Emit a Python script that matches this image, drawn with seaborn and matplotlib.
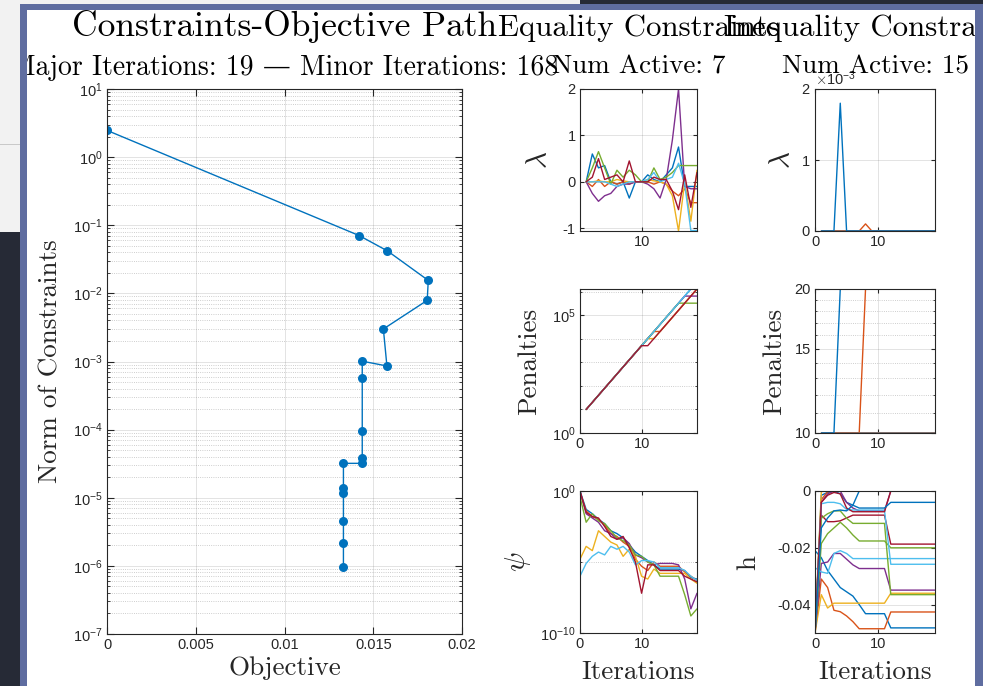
import numpy as np
import pandas as pd
import matplotlib
matplotlib.use("Agg")
import matplotlib.pyplot as plt
import matplotlib.ticker as mticker
from matplotlib.patches import Rectangle
import seaborn as sns

# ---------------- data ----------------
# constraints-objective path (major iterations)
objective = [0.0, 0.01421, 0.0158, 0.0181, 0.01804, 0.01557, 0.01577, 0.01438, 0.01438,
             0.01438, 0.01438, 0.01438, 0.01332, 0.01332, 0.01332, 0.01332, 0.01332, 0.01332]
constraint_norm = [2.47, 0.0705, 0.042, 0.0155, 0.0079, 0.0030, 8.6e-4, 1.01e-3, 5.7e-4,
                   9.7e-5, 3.85e-5, 3.2e-5, 3.2e-5, 1.37e-5, 1.18e-5, 4.6e-6, 2.2e-6, 9.5e-7]

iters_1 = [1, 2, 3, 4, 5, 6, 7, 8, 9, 10, 11, 12, 13, 14, 15, 16, 17, 18, 19]
iters_0 = [0, 1, 2, 3, 4, 5, 6, 7, 8, 9, 10, 11, 12, 13, 14, 15, 16, 17, 18, 19]

# equality multipliers (7 constraints)
lam_eq_1 = [0, 0.6, 0.3, 0.35, 0.0, -0.05, 0.0, -0.35, 0.0, 0.0, 0.15, 0.05, 0.0, 0.15, 0.3, 0.75, -0.1, -0.1, -0.1]
lam_eq_2 = [0, -0.1, 0.05, -0.1, 0.0, -0.05, 0.0, -0.05, 0.0, 0.0, 0.0, -0.05, 0.0, -0.05, -0.2, -0.3, -0.15, -0.45, -0.45]
lam_eq_3 = [0, 0.0, 0.02, 0.0, 0.0, 0.05, 0.02, 0.0, 0.0, 0.0, 0.05, 0.02, 0.0, -0.05, -0.3, -1.06, 0.0, -0.85, 0.25]
lam_eq_4 = [0, -0.25, -0.42, -0.3, -0.25, -0.1, -0.05, -0.05, 0.0, 0.0, -0.05, -0.15, -0.35, 0.05, 0.9, 2.0, -0.1, -0.15, -0.15]
lam_eq_5 = [0, 0.3, 0.65, 0.3, -0.05, 0.25, 0.1, 0.25, 0.15, 0.0, 0.0, 0.3, 0.05, 0.1, 0.2, 0.35, 0.35, 0.35, 0.35]
lam_eq_6 = [0, 0.0, 0.0, 0.0, -0.05, -0.1, -0.05, 0.0, 0.0, 0.0, 0.05, 0.2, 0.0, 0.05, 0.1, 0.4, -0.05, -1.05, -1.05]
lam_eq_7 = [0, 0.1, 0.5, 0.05, 0.1, 0.15, 0.0, 0.45, 0.0, 0.0, 0.0, 0.1, 0.05, 0.05, -0.2, -0.6, 0.15, -0.55, 0.2]

# equality penalties
pen_eq_1 = [10, 20, 40, 80, 160, 320, 640, 1280, 2560, 5120, 10240, 20480, 40960, 81920, 163840, 327680, 655360, 1310720, 1310720]
pen_eq_2 = [10, 20, 40, 80, 160, 320, 640, 1280, 2560, 5120, 10240, 20480, 20480, 40960, 81920, 163840, 327680, 655360, 1310720]
pen_eq_3 = [10, 20, 40, 80, 160, 320, 640, 1280, 2560, 5120, 10240, 10240, 20480, 40960, 81920, 163840, 327680, 655360, 1310720]
pen_eq_4 = [10, 20, 40, 80, 160, 320, 640, 1280, 2560, 5120, 10240, 20480, 40960, 81920, 163840, 327680, 655360, 655360, 655360]
pen_eq_5 = [10, 20, 40, 80, 160, 320, 640, 1280, 2560, 5120, 10240, 20480, 40960, 81920, 163840, 327680, 327680, 327680, 327680]
pen_eq_6 = [10, 20, 40, 80, 160, 320, 640, 1280, 2560, 5120, 10240, 20480, 40960, 81920, 163840, 327680, 655360, 1310720, 1310720]
pen_eq_7 = [10, 20, 40, 80, 160, 320, 640, 1280, 2560, 5120, 5120, 10240, 20480, 40960, 81920, 163840, 327680, 655360, 1310720]

# psi (log10 of merit values), iterations 0..19
psi_1 = [0, -1.3, -1.6, -2.0, -2.3, -2.8, -3.0, -3.3, -3.8, -4.3, -4.6, -4.9, -5.2, -5.5, -5.5, -5.5, -5.5, -5.6, -6.1, -6.2]
psi_2 = [-0.1, -1.4, -1.8, -2.0, -2.4, -3.0, -3.2, -3.6, -3.9, -4.8, -5.3, -5.6, -5.0, -5.3, -5.3, -5.3, -5.3, -5.7, -6.0, -6.3]
psi_3 = [-4.8, -3.9, -4.2, -2.8, -3.2, -3.6, -3.8, -4.6, -4.1, -4.6, -6.0, -6.2, -5.5, -5.8, -5.8, -5.8, -5.8, -5.8, -6.2, -6.5]
psi_4 = [0, -1.6, -1.9, -2.2, -2.8, -3.0, -3.4, -3.3, -3.7, -4.5, -4.7, -5.0, -5.2, -5.1, -5.1, -5.1, -5.2, -6.2, -8.3, -7.2]
psi_5 = [-0.4, -2.2, -1.6, -2.1, -2.3, -2.8, -3.3, -3.5, -3.8, -4.5, -4.6, -5.0, -5.2, -6.0, -6.0, -6.0, -6.0, -7.3, -8.8, -8.3]
psi_6 = [-6.0, -5.1, -4.6, -4.3, -4.5, -3.9, -4.1, -3.9, -4.3, -5.2, -4.9, -4.9, -5.0, -5.4, -5.4, -5.4, -5.4, -5.6, -6.0, -6.3]
psi_7 = [0, -1.5, -1.8, -1.9, -2.5, -3.2, -3.4, -3.2, -4.0, -5.0, -7.2, -5.2, -5.2, -5.6, -5.6, -5.6, -5.6, -6.0, -6.2, -6.4]

# inequality multipliers (15 constraints, most stay at zero)
lam_in_zero = [0, 0, 0, 0, 0, 0, 0, 0, 0, 0, 0, 0, 0, 0, 0, 0, 0, 0, 0]
lam_in_9 = [0, 0, 0, 0, 0, 0, 0, 1.0e-4, 0, 0, 0, 0, 0, 0, 0, 0, 0, 0, 0]
lam_in_15 = [0, 0, 0, 1.8e-3, 0, 0, 0, 0, 0, 0, 0, 0, 0, 0, 0, 0, 0, 0, 0]

# inequality penalties
pen_in_flat = [10, 10, 10, 10, 10, 10, 10, 10, 10, 10, 10, 10, 10, 10, 10, 10, 10, 10, 10]
pen_in_9 = [10, 10, 10, 10, 10, 10, 10, 20, 20, 20, 20, 20, 20, 20, 20, 20, 20, 20, 20]
pen_in_15 = [10, 10, 10, 20, 20, 20, 20, 20, 20, 20, 20, 20, 20, 20, 20, 20, 20, 20, 20]

# inequality constraint values h, iterations 0..19
h_01 = [-0.0210, -0.0235, -0.0280, -0.0310, -0.0340, -0.0355, -0.0370, -0.0400, -0.0432, -0.0432, -0.0432, -0.0432, -0.0482, -0.0482, -0.0482, -0.0482, -0.0482, -0.0482, -0.0482, -0.0482]
h_02 = [-0.0500, -0.0310, -0.0340, -0.0420, -0.0425, -0.0440, -0.0460, -0.0485, -0.0485, -0.0485, -0.0485, -0.0485, -0.0426, -0.0426, -0.0426, -0.0426, -0.0426, -0.0426, -0.0426, -0.0426]
h_03 = [-0.0500, -0.0365, -0.0412, -0.0395, -0.0395, -0.0395, -0.0395, -0.0395, -0.0395, -0.0395, -0.0395, -0.0395, -0.0360, -0.0360, -0.0360, -0.0360, -0.0360, -0.0360, -0.0360, -0.0360]
h_04 = [-0.0500, -0.0255, -0.0250, -0.0220, -0.0220, -0.0240, -0.0260, -0.0273, -0.0273, -0.0273, -0.0273, -0.0273, -0.0349, -0.0349, -0.0349, -0.0349, -0.0349, -0.0349, -0.0349, -0.0349]
h_05 = [-0.0500, -0.0185, -0.0150, -0.0130, -0.0110, -0.0130, -0.0155, -0.0176, -0.0176, -0.0176, -0.0176, -0.0176, -0.0200, -0.0200, -0.0200, -0.0200, -0.0200, -0.0200, -0.0200, -0.0200]
h_06 = [-0.0270, -0.0285, -0.0290, -0.0220, -0.0210, -0.0220, -0.0238, -0.0238, -0.0238, -0.0238, -0.0238, -0.0238, -0.0238, -0.0238, -0.0238, -0.0238, -0.0238, -0.0238, -0.0238, -0.0238]
h_07 = [-0.0500, -0.0085, -0.0108, -0.0108, -0.0105, -0.0095, -0.0085, -0.0085, -0.0085, -0.0085, -0.0085, -0.0085, -0.0187, -0.0187, -0.0187, -0.0187, -0.0187, -0.0187, -0.0187, -0.0187]
h_08 = [-0.0500, -0.0015, -0.0005, 0.0, -0.0010, -0.0040, -0.0050, 0.0, 0.0, 0.0, 0.0, 0.0, 0.0, 0.0, 0.0, 0.0, 0.0, 0.0, 0.0, 0.0]
h_09 = [-0.0500, -0.0030, -0.0003, 0.0, 0.0, 0.0, 0.0, 0.0, 0.0, 0.0, 0.0, 0.0, 0.0, 0.0, 0.0, 0.0, 0.0, 0.0, 0.0, 0.0]
h_10 = [-0.0500, -0.0002, 0.0, 0.0, 0.0, 0.0, 0.0, 0.0, 0.0, 0.0, 0.0, 0.0, 0.0, 0.0, 0.0, 0.0, 0.0, 0.0, 0.0, 0.0]
h_11 = [-0.0500, -0.0040, -0.0010, 0.0, 0.0, -0.0040, -0.0060, -0.0070, -0.0070, -0.0070, -0.0070, -0.0070, 0.0, 0.0, 0.0, 0.0, 0.0, 0.0, 0.0, 0.0]
h_12 = [-0.0500, -0.0096, -0.0080, -0.0070, -0.0070, -0.0096, -0.0114, -0.0114, -0.0114, -0.0114, -0.0114, -0.0114, -0.0365, -0.0365, -0.0365, -0.0365, -0.0365, -0.0365, -0.0365, -0.0365]
h_13 = [-0.0500, -0.0045, -0.0040, -0.0040, -0.0045, -0.0065, -0.0067, -0.0067, -0.0067, -0.0067, -0.0067, -0.0067, -0.0258, -0.0258, -0.0258, -0.0258, -0.0258, -0.0258, -0.0258, -0.0258]
h_14 = [-0.0500, -0.0040, -0.0015, -0.0005, -0.0010, -0.0060, -0.0073, -0.0073, -0.0073, -0.0073, -0.0073, -0.0073, 0.0, 0.0, 0.0, 0.0, 0.0, 0.0, 0.0, 0.0]
h_15 = [-0.0500, -0.0130, -0.0095, -0.0070, -0.0067, -0.0070, -0.0050, -0.0060, -0.0060, -0.0060, -0.0060, -0.0060, -0.0040, -0.0040, -0.0040, -0.0040, -0.0040, -0.0040, -0.0040, -0.0040]

# ---------------- style ----------------
sns.set_style("white")
plt.rcParams['font.family'] = ['Liberation Sans', 'DejaVu Sans']
plt.rcParams['mathtext.fontset'] = 'cm'
SERIF = ['cmr10', 'DejaVu Serif']
INK = '#262626'
mat_colors = ['#0072BD', '#D95319', '#EDB120', '#7E2F8E', '#77AC30', '#4DBEEE', '#A2142F']

W, H = 983, 686
fig = plt.figure(figsize=(W / 100, H / 100), dpi=100)
fig.patch.set_facecolor('white')


def box(x0, y0, x1, y1):
    return [x0 / W, 1 - y1 / H, (x1 - x0) / W, (y1 - y0) / H]


def rect(x0, y0, x1, y1, color, z=6):
    fig.patches.append(Rectangle((x0 / W, 1 - y1 / H), (x1 - x0) / W, (y1 - y0) / H,
                                 transform=fig.transFigure, color=color, zorder=z, lw=0))


# window frame around the figure (drawn over any text that spills past it)
rect(0, 0, 20, 232, '#f2f2f2')
rect(0, 232, 20, 686, '#262a36')
rect(0, 0, 580, 4, '#f2f2f2')
rect(580, 0, 983, 4, '#262a36')
rect(0, 144, 20, 145, '#c9c9c9', 7)
rect(20, 4, 27, 686, '#5f6da0')
rect(20, 4, 983, 10, '#5f6da0')
rect(975, 4, 983, 686, '#5f6da0')

ax_main = fig.add_axes(box(107, 89, 462, 634))
ax_lam_eq = fig.add_axes(box(580, 89, 697, 231))
ax_pen_eq = fig.add_axes(box(580, 289, 697, 433))
ax_psi = fig.add_axes(box(580, 491, 697, 633))
ax_lam_in = fig.add_axes(box(815, 89, 935, 231))
ax_pen_in = fig.add_axes(box(815, 289, 935, 433))
ax_h = fig.add_axes(box(815, 491, 935, 633))


def style(ax, tick_len=4):
    for s in ax.spines.values():
        s.set_visible(True)
        s.set_color(INK)
        s.set_linewidth(0.8)
    ax.tick_params(which='both', direction='in', bottom=True, left=True, top=True, right=True,
                   colors=INK, labelsize=10.5, pad=3)
    ax.tick_params(which='major', length=tick_len)
    ax.tick_params(which='minor', length=tick_len * 0.5)
    ax.grid(True, which='major', color=INK, alpha=0.15, lw=0.6)


def draw_panel(ax, iters, series):
    frames = []
    for i, vals in enumerate(series):
        frames.append(pd.DataFrame({'iteration': iters, 'value': vals, 'constraint': 'c%02d' % i}))
    df = pd.concat(frames, ignore_index=True)
    pal = [mat_colors[i % 7] for i in range(len(series))]
    sns.lineplot(data=df, x='iteration', y='value', hue='constraint', palette=pal,
                 estimator=None, sort=False, legend=False, lw=1.0, ax=ax)
    ax.set_xlim(0, 19)
    ax.set_xlabel('')
    ax.set_ylabel('')


# ---------------- main path ----------------
sns.lineplot(x=objective, y=constraint_norm, ax=ax_main, sort=False, estimator=None,
             color='#0072BD', lw=1.0, marker='o', markersize=6.5, markeredgewidth=0)
ax_main.set_yscale('log')
ax_main.set_ylim(1e-7, 10)
ax_main.set_xlim(0, 0.02)
ax_main.set_xticks([0, 0.005, 0.01, 0.015, 0.02], labels=['0', '0.005', '0.01', '0.015', '0.02'])
ax_main.yaxis.set_major_locator(mticker.LogLocator(base=10, numticks=20))
ax_main.yaxis.set_minor_locator(mticker.LogLocator(base=10, subs=np.arange(2, 10), numticks=20))
ax_main.yaxis.set_minor_formatter(mticker.NullFormatter())
style(ax_main, 5)
ax_main.grid(True, which='minor', axis='y', ls=':', color=INK, alpha=0.3, lw=0.6)
ax_main.set_xlabel('Objective', family=SERIF, fontsize=19.5, color=INK)
ax_main.set_ylabel('Norm of Constraints', family=SERIF, fontsize=19.5, color=INK)
ax_main.xaxis.set_label_coords(0.5, -0.04)
ax_main.yaxis.set_label_coords(-0.125, 0.5)

# ---------------- equality constraints ----------------
draw_panel(ax_lam_eq, iters_1, [lam_eq_1, lam_eq_2, lam_eq_3, lam_eq_4, lam_eq_5, lam_eq_6, lam_eq_7])
ax_lam_eq.set_ylim(-1.06, 2.0)
ax_lam_eq.set_yticks([-1, 0, 1, 2], labels=['-1', '0', '1', '2'])
ax_lam_eq.set_xticks([10])
style(ax_lam_eq, 3)
ax_lam_eq.set_ylabel(r'$\lambda$', fontsize=21, color=INK)
ax_lam_eq.yaxis.set_label_coords(-0.23, 0.5)

draw_panel(ax_pen_eq, iters_1, [pen_eq_1, pen_eq_2, pen_eq_3, pen_eq_4, pen_eq_5, pen_eq_6, pen_eq_7])
ax_pen_eq.set_yscale('log')
ax_pen_eq.set_ylim(1, 1310720)
ax_pen_eq.yaxis.set_major_locator(mticker.FixedLocator([1, 1e5]))
ax_pen_eq.yaxis.set_major_formatter(mticker.LogFormatterSciNotation())
ax_pen_eq.yaxis.set_minor_locator(mticker.FixedLocator([10, 100, 1e3, 1e4, 1e6]))
ax_pen_eq.yaxis.set_minor_formatter(mticker.NullFormatter())
ax_pen_eq.set_xticks([0, 10])
style(ax_pen_eq, 3)
ax_pen_eq.grid(True, which='minor', axis='y', ls=':', color=INK, alpha=0.3, lw=0.6)
ax_pen_eq.set_ylabel('Penalties', family=SERIF, fontsize=19.5, color=INK)
ax_pen_eq.yaxis.set_label_coords(-0.33, 0.5)

draw_panel(ax_psi, iters_0, [np.power(10.0, p) for p in [psi_1, psi_2, psi_3, psi_4, psi_5, psi_6, psi_7]])
ax_psi.set_yscale('log')
ax_psi.set_ylim(1e-10, 1)
ax_psi.yaxis.set_major_locator(mticker.FixedLocator([1e-10, 1]))
ax_psi.yaxis.set_major_formatter(mticker.LogFormatterSciNotation())
ax_psi.yaxis.set_minor_locator(mticker.FixedLocator([1e-5]))
ax_psi.yaxis.set_minor_formatter(mticker.NullFormatter())
ax_psi.set_xticks([0, 10])
style(ax_psi, 3)
ax_psi.grid(True, which='minor', axis='y', ls=':', color=INK, alpha=0.3, lw=0.6)
ax_psi.set_ylabel(r'$\psi$', fontsize=21, color=INK)
ax_psi.yaxis.set_label_coords(-0.40, 0.5)
ax_psi.set_xlabel('Iterations', family=SERIF, fontsize=19.5, color=INK)
ax_psi.xaxis.set_label_coords(0.5, -0.19)

# ---------------- inequality constraints ----------------
lam_in = [lam_in_zero] * 8 + [lam_in_9] + [lam_in_zero] * 5 + [lam_in_15]
draw_panel(ax_lam_in, iters_1, lam_in)
ax_lam_in.set_ylim(0, 2e-3)
ax_lam_in.set_yticks([0, 1e-3, 2e-3])
fmt = mticker.ScalarFormatter(useMathText=True)
fmt.set_powerlimits((-2, 2))
ax_lam_in.yaxis.set_major_formatter(fmt)
ax_lam_in.set_xticks([0, 10])
style(ax_lam_in, 3)
ax_lam_in.yaxis.get_offset_text().set_fontsize(10.5)
ax_lam_in.set_ylabel(r'$\lambda$', fontsize=21, color=INK)
ax_lam_in.yaxis.set_label_coords(-0.16, 0.5)

pen_in = [pen_in_flat] * 8 + [pen_in_9] + [pen_in_flat] * 5 + [pen_in_15]
draw_panel(ax_pen_in, iters_1, pen_in)
ax_pen_in.set_yscale('log')
ax_pen_in.set_ylim(10, 20)
ax_pen_in.yaxis.set_major_locator(mticker.FixedLocator([10, 15, 20]))
ax_pen_in.yaxis.set_major_formatter(mticker.FixedFormatter(['10', '15', '20']))
ax_pen_in.yaxis.set_minor_locator(mticker.FixedLocator([11, 12, 13, 14, 16, 17, 18, 19]))
ax_pen_in.yaxis.set_minor_formatter(mticker.NullFormatter())
ax_pen_in.set_xticks([0, 10])
style(ax_pen_in, 3)
ax_pen_in.grid(True, which='minor', axis='y', ls=':', color=INK, alpha=0.3, lw=0.6)
ax_pen_in.set_ylabel('Penalties', family=SERIF, fontsize=19.5, color=INK)
ax_pen_in.yaxis.set_label_coords(-0.24, 0.5)

draw_panel(ax_h, iters_0, [h_01, h_02, h_03, h_04, h_05, h_06, h_07, h_08, h_09, h_10,
                           h_11, h_12, h_13, h_14, h_15])
ax_h.set_ylim(-0.05, 0)
ax_h.set_yticks([-0.04, -0.02, 0], labels=['-0.04', '-0.02', '0'])
ax_h.set_xticks([0, 10])
style(ax_h, 3)
ax_h.set_ylabel('h', family=SERIF, fontsize=19.5, color=INK)
ax_h.yaxis.set_label_coords(-0.46, 0.5)
ax_h.set_xlabel('Iterations', family=SERIF, fontsize=19.5, color=INK)
ax_h.xaxis.set_label_coords(0.5, -0.19)

# ---------------- titles ----------------
fig.text(284.5 / W, 1 - 36 / H, 'Constraints-Objective Path', family=SERIF, fontsize=25.5,
         ha='center', va='baseline', color='black')
fig.text(284.5 / W, 1 - 75 / H, 'Major Iterations: 19 \u2014 Minor Iterations: 168', family=SERIF,
         fontsize=20, ha='center', va='baseline', color='black')
fig.text(638.5 / W, 1 - 36 / H, 'Equality Constraints', family=SERIF, fontsize=22.2,
         ha='center', va='baseline', color='black')
fig.text(638.5 / W, 1 - 74 / H, 'Num Active: 7', family=SERIF, fontsize=19.5,
         ha='center', va='baseline', color='black')
fig.text(875 / W, 1 - 36 / H, 'Inequality Constraints', family=SERIF, fontsize=22.2,
         ha='center', va='baseline', color='black')
fig.text(875 / W, 1 - 74 / H, 'Num Active: 15', family=SERIF, fontsize=19.5,
         ha='center', va='baseline', color='black')

fig.savefig('out.png', dpi=100, facecolor=fig.get_facecolor())
